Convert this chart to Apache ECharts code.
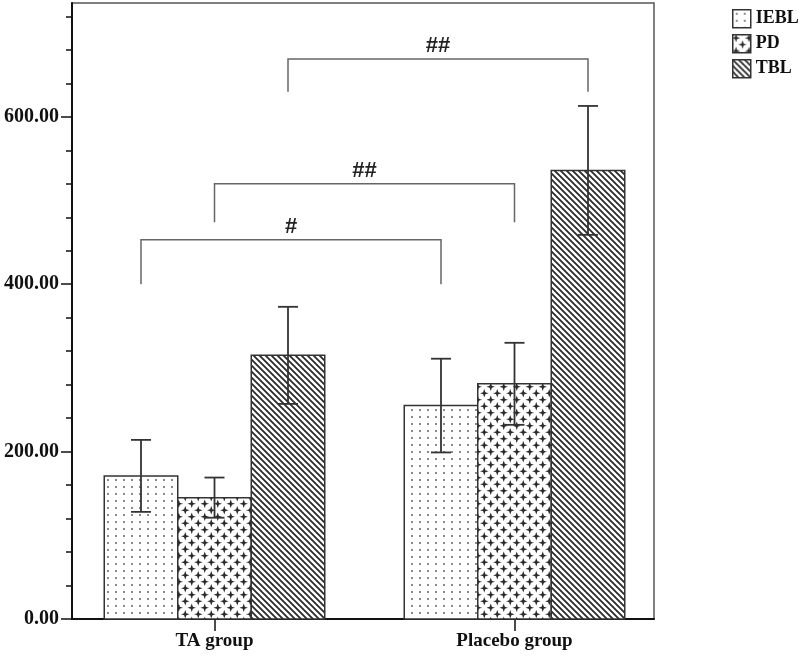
<!DOCTYPE html>
<html>
<head>
<meta charset="utf-8">
<script src="https://cdn.jsdelivr.net/npm/echarts@6/dist/echarts.min.js"></script>
<style>
  html, body { margin: 0; padding: 0; background: #fff; }
  #chart { width: 800px; height: 657px; }
</style>
</head>
<body>
<div id="chart"></div>
<script>
// ---- data ----
const categories = ['TA group', 'Placebo group'];
const seriesNames = ['IEBL', 'PD', 'TBL'];
const ieblMean = [171, 255];
const ieblErr = [43, 56];
const pdMean = [145, 281];
const pdErr = [24, 49];
const tblMean = [315, 536];
const tblErr = [58, 77];
const yMajorTicks = [0, 200, 400, 600];
const yMinorTicks = [0, 40, 80, 120, 160, 200, 240, 280, 320, 360, 400, 440, 480, 520, 560, 600, 640, 680, 720];
// significance comparisons (TA vs Placebo for the same series)
const compSeries = [0, 1, 2];
const compLineY = [453, 520, 669];
const compEndY = [400, 474, 630];
const compLabels = ['#', '##', '##'];

// ---- layout constants ----
const barW = 0.245;
const offsets = [-0.245, 0, 0.245];

// ---- patterns ----
function makeCanvas(w, h, draw) {
  const c = document.createElement('canvas');
  c.width = w; c.height = h;
  const ctx = c.getContext('2d');
  ctx.fillStyle = '#fff';
  ctx.fillRect(0, 0, w, h);
  draw(ctx);
  return { image: c, repeat: 'repeat' };
}
const dotPattern = makeCanvas(8, 7, ctx => {
  ctx.fillStyle = '#8a8a8a';
  ctx.fillRect(3, 3, 2, 2);
});
const crossPattern = makeCanvas(13, 13, ctx => {
  ctx.fillStyle = '#2a2a2a';
  function star(cx, cy) {
    ctx.beginPath();
    ctx.moveTo(cx, cy - 4.3);
    ctx.lineTo(cx + 1.1, cy - 1.1);
    ctx.lineTo(cx + 4.3, cy);
    ctx.lineTo(cx + 1.1, cy + 1.1);
    ctx.lineTo(cx, cy + 4.3);
    ctx.lineTo(cx - 1.1, cy + 1.1);
    ctx.lineTo(cx - 4.3, cy);
    ctx.lineTo(cx - 1.1, cy - 1.1);
    ctx.closePath();
    ctx.fill();
  }
  star(3.25, 3.25); star(16.25, 3.25); star(3.25, 16.25); star(16.25, 16.25);
  star(9.75, 9.75); star(-3.25, 9.75); star(9.75, -3.25);
});
const stripePattern = makeCanvas(6, 6, ctx => {
  ctx.strokeStyle = '#2a2a2a';
  ctx.lineWidth = 1.8;
  ctx.beginPath();
  for (let k = -2; k <= 2; k++) {
    ctx.moveTo(k * 6 - 1, -1);
    ctx.lineTo(k * 6 + 7, 7);
  }
  ctx.stroke();
});
const patterns = [dotPattern, crossPattern, stripePattern];
const means = [ieblMean, pdMean, tblMean];
const errs = [ieblErr, pdErr, tblErr];

const serif = 'Liberation Serif';

function barRender(sIdx) {
  return function (params, api) {
    const x = api.value(0), v = api.value(1), e = api.value(2);
    const off = offsets[sIdx];
    const tl = api.coord([x + off - barW / 2, v]);
    const br = api.coord([x + off + barW / 2, 0]);
    const cx = api.coord([x + off, 0])[0];
    const hi = api.coord([x + off, v + e])[1];
    const lo = api.coord([x + off, v - e])[1];
    const cap = 10;
    return {
      type: 'group',
      children: [
        { type: 'rect', shape: { x: tl[0], y: tl[1], width: br[0] - tl[0], height: br[1] - tl[1] },
          style: { fill: patterns[sIdx], stroke: '#333', lineWidth: 1.5 } },
        { type: 'line', shape: { x1: cx, y1: hi, x2: cx, y2: lo }, style: { stroke: '#333', lineWidth: 1.8 } },
        { type: 'line', shape: { x1: cx - cap, y1: hi, x2: cx + cap, y2: hi }, style: { stroke: '#333', lineWidth: 1.8 } },
        { type: 'line', shape: { x1: cx - cap, y1: lo, x2: cx + cap, y2: lo }, style: { stroke: '#333', lineWidth: 1.8 } }
      ]
    };
  };
}

const series = seriesNames.map((name, sIdx) => ({
  name: name,
  type: 'custom',
  renderItem: barRender(sIdx),
  itemStyle: { color: patterns[sIdx], borderColor: '#333', borderWidth: 1.5 },
  encode: { x: 0, y: 1 },
  data: categories.map((c, i) => [i, means[sIdx][i], errs[sIdx][i]]),
  z: 2
}));

series.push({
  name: 'comparisons',
  type: 'custom',
  renderItem: function (params, api) {
    const sIdx = api.value(0), lineY = api.value(1), endY = api.value(2);
    const off = offsets[sIdx];
    const a = api.coord([0 + off, lineY]);
    const b = api.coord([1 + off, lineY]);
    const aEnd = api.coord([0 + off, endY]);
    const bEnd = api.coord([1 + off, endY]);
    return {
      type: 'group',
      children: [
        { type: 'polyline', shape: { points: [aEnd, a, b, bEnd] },
          style: { stroke: '#666', lineWidth: 1.5, fill: null } },
        { type: 'text', x: (a[0] + b[0]) / 2, y: a[1] - 2,
          style: { text: compLabels[params.dataIndex], fill: '#222', font: 'bold 22px "Liberation Sans"',
                   align: 'center', verticalAlign: 'bottom' } }
      ]
    };
  },
  data: compSeries.map((s, i) => [s, compLineY[i], compEndY[i]]),
  z: 3
});

const chart = echarts.init(document.getElementById('chart'), null, { renderer: 'canvas' });
chart.setOption({
  animation: false,
  backgroundColor: '#fff',
  grid: { left: 72, right: 146, top: 3, bottom: 38, show: true, borderColor: '#555', borderWidth: 1.5 },
  legend: {
    orient: 'vertical',
    left: 727, top: 4,
    itemWidth: 18, itemHeight: 18, itemGap: 5.5,
    icon: 'rect',
    selectedMode: false,
    data: seriesNames,
    itemStyle: { borderColor: '#333', borderWidth: 1.5 },
    textStyle: { fontFamily: serif, fontWeight: 'bold', fontSize: 18, color: '#111' }
  },
  xAxis: {
    type: 'value',
    min: -0.475, max: 1.465,
    splitLine: { show: false },
    axisLine: { show: true, onZero: false, lineStyle: { color: '#111', width: 2 } },
    axisTick: { show: true, customValues: [0, 1], length: 12, lineStyle: { color: '#111', width: 1.5 } },
    axisLabel: {
      customValues: [0, 1],
      formatter: v => categories[Math.round(v)],
      fontFamily: serif, fontWeight: 'bold', fontSize: 19, color: '#111', margin: 13
    }
  },
  yAxis: [
    {
      type: 'value', min: 0, max: 736, position: 'left',
      splitLine: { show: false },
      axisLine: { show: true, onZero: false, lineStyle: { color: '#111', width: 2 } },
      axisTick: { show: true, customValues: yMajorTicks, length: 11, lineStyle: { color: '#111', width: 1.5 } },
      axisLabel: {
        customValues: yMajorTicks,
        formatter: v => v.toFixed(2),
        fontFamily: serif, fontWeight: 'bold', fontSize: 20, color: '#111', margin: 13
      }
    },
    {
      type: 'value', min: 0, max: 736, position: 'left',
      splitLine: { show: false },
      axisLine: { show: false, onZero: false },
      axisTick: { show: true, customValues: yMinorTicks, length: 6, lineStyle: { color: '#111', width: 1.5 } },
      axisLabel: { show: false }
    }
  ],
  series: series
});
</script>
</body>
</html>
